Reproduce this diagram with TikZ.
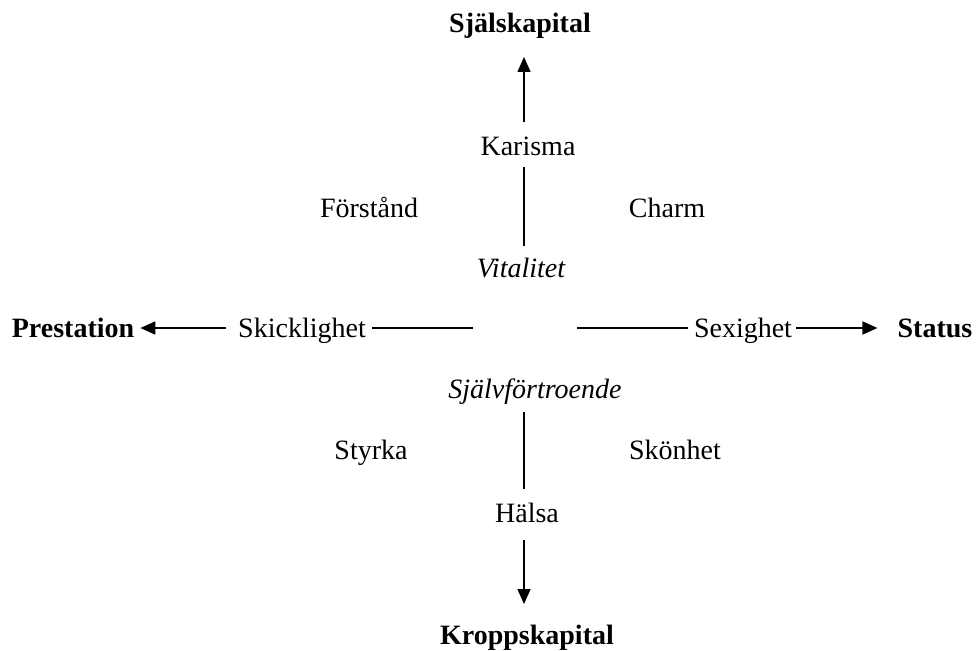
\documentclass[tikz,border=0pt]{standalone}
\usepackage{fontspec}
\setmainfont{Liberation Serif}
\usetikzlibrary{arrows.meta}
\begin{document}
\begin{tikzpicture}[x=1pt,y=-1pt,
  lbl/.style={anchor=base,inner sep=0pt,font=\fontsize{28}{34}\selectfont},
  hd/.style={lbl,font=\fontsize{28}{34}\selectfont\bfseries},
  it/.style={lbl,font=\fontsize{28}{34}\selectfont\itshape},
  ln/.style={line width=1.6pt},
  arr/.style={ln,-{Triangle[length=15pt,width=13pt]}}]
\useasboundingbox (0,0) rectangle (976,650);
\coordinate (ax) at (524,328);
\node[hd] (sjal) at (520,33) {Själskapital};
\node[lbl] (karisma) at (528,155) {Karisma};
\node[lbl] (forstand) at (369,217) {Förstånd};
\node[lbl] (charm) at (667,217) {Charm};
\node[it] (vital) at (521,277) {Vitalitet};
\node[hd] (prest) at (73,337) {Prestation};
\node[lbl] (skick) at (302,337) {Skicklighet};
\node[lbl] (sexig) at (743,337) {Sexighet};
\node[hd] (status) at (935,337) {Status};
\node[it] (sjalvf) at (535,398) {Självförtroende};
\node[lbl] (styrka) at (371,459) {Styrka};
\node[lbl] (skonhet) at (675,459) {Skönhet};
\node[lbl] (halsa) at (527,522) {Hälsa};
\node[hd] (kropp) at (527,644) {Kroppskapital};
\coordinate (hl) at (473,328);
\coordinate (hr) at (577,328);
% vertical
\draw[arr] (ax |- 0,122) coordinate (a1) -- (ax |- 0,57) coordinate (a2);
\draw[ln] (ax |- 0,167) coordinate (v1) -- (ax |- 0,246) coordinate (v2);
\draw[ln] (ax |- 0,412) coordinate (v3) -- (ax |- 0,489) coordinate (v4);
\draw[arr] (ax |- 0,540) coordinate (a3) -- (ax |- 0,604) coordinate (a4);
% horizontal
\draw[arr] ([xshift=-12pt]skick.west |- ax) -- ([xshift=6pt]prest.east |- ax);
\draw[ln] ([xshift=6pt]skick.east |- ax) -- (hl);
\draw[ln] (hr) -- ([xshift=-6pt]sexig.west |- ax);
\draw[arr] ([xshift=4pt]sexig.east |- ax) -- ([xshift=-20pt]status.west |- ax);
\end{tikzpicture}
\end{document}
